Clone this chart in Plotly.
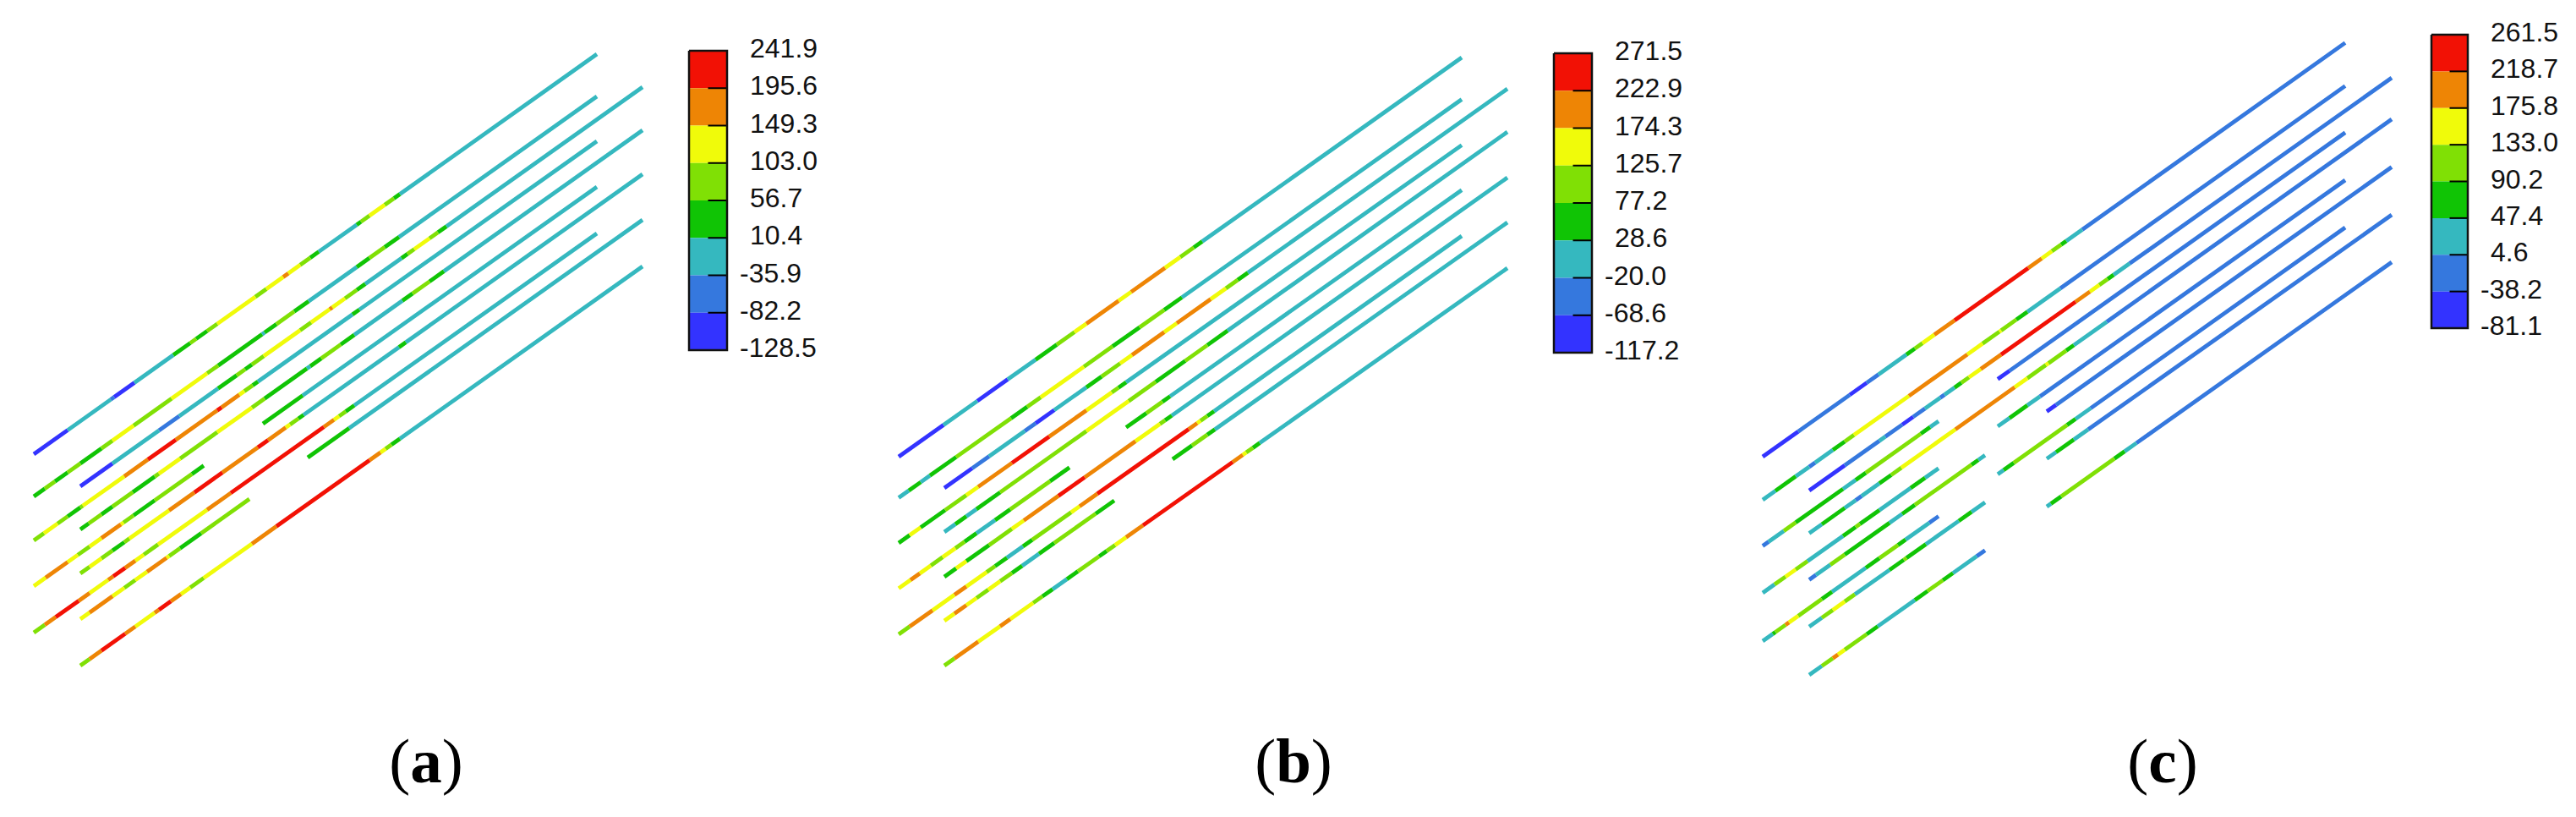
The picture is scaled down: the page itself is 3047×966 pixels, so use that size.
import plotly.graph_objects as go

# contour classes, bottom to top of each legend
BAND_COLORS = {"B": "#3333FF", "b": "#3578DE", "t": "#35B8BF", "g": "#10C405",
               "l": "#80E005", "y": "#F0FB0A", "o": "#EE8505", "r": "#F21105"}
LEGEND_ORDER = ["r", "o", "y", "l", "g", "t", "b", "B"]

levels_a = ["241.9", "195.6", "149.3", "103.0", "56.7", "10.4", "-35.9", "-82.2", "-128.5"]
levels_b = ["271.5", "222.9", "174.3", "125.7", "77.2", "28.6", "-20.0", "-68.6", "-117.2"]
levels_c = ["261.5", "218.7", "175.8", "133.0", "90.2", "47.4", "4.6", "-38.2", "-81.1"]

# line ends: x start, x end, y start, y end
a_A = (40, 706); a_B = (95, 760)
b_A = (1063, 1729); b_B = (1117, 1783)
c_A = (2085, 2774); c_B = (2140, 2829)
a_ys = [(537, 64), (587, 114), (639, 167), (693, 221), (748, 276),
        (575, 103), (626, 154), (678, 206), (732, 260), (787, 315)]
b_ys = [(540, 68), (588.5, 117.5), (642, 171.6), (695.6, 224.7), (750, 279),
        (577, 105), (629, 156), (682, 210), (734, 263), (787, 317)]
c_ys = [(540, 50.6), (591, 101.6), (645.5, 156.7), (701, 213), (758, 269),
        (580, 92), (630.5, 141), (685.5, 197.5), (741, 254), (798, 310)]

# band runs along each line: (end station, class); "_" is a break in the line
a1 = [(80,"B"),(131,"t"),(135,"b"),(159,"B"),(205,"t"),(225,"g"),(232,"l"),(245,"g"),(257,"l"),(302,"y"),(315,"l"),(335,"y"),(341,"o"),(355,"y"),(367,"l"),(377,"g"),(422,"t"),(427,"g"),(437,"l"),(455,"y"),(466,"l"),(473,"g"),(706,"t")]
a2 = [(53,"g"),(65,"l"),(80,"g"),(95,"l"),(120,"g"),(133,"l"),(158,"y"),(203,"l"),(245,"y"),(258,"l"),(310,"g"),(313,"t"),(327,"g"),(348,"l"),(365,"g"),(422,"t"),(437,"g"),(455,"l"),(472,"g"),(706,"t")]
a3 = [(52,"l"),(68,"y"),(80,"l"),(95,"g"),(98,"l"),(147,"y"),(175,"o"),(208,"r"),(257,"o"),(262,"r"),(283,"o"),(289,"y"),(299,"l"),(305,"g"),(417,"t"),(425,"g"),(706,"t")]
a4 = [(54,"y"),(80,"o"),(92,"y"),(106,"l"),(120,"y"),(143,"o"),(146,"y"),(158,"l"),(183,"g"),(227,"l"),(241,"g"),(311,"_"),(358,"g"),(706,"t")]
a5 = [(53,"l"),(66,"o"),(93,"r"),(106,"o"),(128,"y"),(134,"o"),(148,"r"),(160,"o"),(170,"y"),(187,"l"),(245,"y"),(273,"o"),(383,"r"),(395,"o"),(401,"y"),(409,"l"),(419,"g"),(706,"t")]
a6 = [(133,"B"),(188,"t"),(212,"b"),(258,"t"),(280,"g"),(290,"l"),(298,"g"),(312,"l"),(355,"y"),(368,"l"),(390,"y"),(393,"o"),(408,"y"),(422,"l"),(432,"g"),(475,"t"),(482,"g"),(490,"l"),(508,"y"),(518,"l"),(528,"g"),(760,"t")]
a7 = [(105,"g"),(120,"l"),(133,"g"),(157,"l"),(183,"g"),(188,"l"),(213,"y"),(257,"l"),(298,"y"),(313,"l"),(363,"g"),(367,"t"),(380,"g"),(403,"l"),(419,"g"),(476,"t"),(488,"g"),(508,"l"),(525,"g"),(760,"t")]
a8 = [(106,"l"),(120,"y"),(133,"l"),(147,"g"),(153,"l"),(200,"y"),(230,"o"),(263,"r"),(305,"o"),(317,"r"),(338,"o"),(343,"y"),(353,"l"),(359,"g"),(472,"t"),(480,"g"),(760,"t")]
a9 = [(106,"y"),(133,"o"),(147,"y"),(160,"l"),(174,"y"),(197,"o"),(200,"y"),(213,"l"),(238,"g"),(295,"l"),(364,"_"),(413,"g"),(760,"t")]
a10 = [(106,"l"),(120,"o"),(148,"r"),(160,"o"),(183,"y"),(188,"o"),(202,"r"),(214,"o"),(225,"y"),(241,"l"),(298,"y"),(327,"o"),(437,"r"),(450,"o"),(456,"y"),(463,"l"),(473,"g"),(760,"t")]

b1 = [(1116,"B"),(1156,"t"),(1192,"B"),(1225,"t"),(1250,"g"),(1271,"l"),(1285,"y"),(1323,"o"),(1338,"y"),(1378,"o"),(1396,"y"),(1412,"l"),(1422,"g"),(1729,"t")]
b2 = [(1075,"t"),(1089,"g"),(1100,"t"),(1131,"g"),(1196,"l"),(1215,"g"),(1231,"l"),(1282,"y"),(1316,"l"),(1348,"g"),(1377,"l"),(1398,"g"),(1729,"t")]
b3 = [(1076,"g"),(1089,"y"),(1118,"g"),(1143,"l"),(1157,"y"),(1197,"o"),(1241,"r"),(1285,"o"),(1315,"y"),(1323,"l"),(1332,"g"),(1729,"t")]
b4 = [(1077,"y"),(1088,"o"),(1101,"y"),(1115,"l"),(1130,"y"),(1141,"l"),(1155,"g"),(1177,"t"),(1195,"g"),(1242,"l"),(1265,"g"),(1332,"_"),(1356,"g"),(1375,"l"),(1384,"g"),(1729,"t")]
b5 = [(1076,"l"),(1103,"o"),(1129,"y"),(1143,"o"),(1167,"y"),(1177,"l"),(1191,"g"),(1210,"t"),(1221,"g"),(1267,"l"),(1277,"y"),(1298,"o"),(1406,"r"),(1416,"o"),(1420,"y"),(1428,"l"),(1436,"g"),(1729,"t")]
b6 = [(1150,"B"),(1170,"b"),(1212,"t"),(1225,"b"),(1247,"B"),(1285,"t"),(1303,"g"),(1325,"l"),(1339,"y"),(1377,"o"),(1392,"y"),(1432,"o"),(1450,"y"),(1464,"l"),(1476,"g"),(1783,"t")]
b7 = [(1130,"t"),(1143,"g"),(1155,"t"),(1183,"g"),(1285,"l"),(1335,"y"),(1367,"l"),(1402,"g"),(1428,"l"),(1452,"g"),(1783,"t")]
b8 = [(1131,"g"),(1143,"y"),(1170,"g"),(1197,"l"),(1211,"y"),(1252,"o"),(1283,"r"),(1343,"o"),(1372,"y"),(1378,"l"),(1386,"g"),(1783,"t")]
b9 = [(1129,"y"),(1143,"o"),(1155,"y"),(1169,"l"),(1183,"y"),(1197,"l"),(1209,"g"),(1229,"t"),(1247,"g"),(1296,"l"),(1318,"g"),(1387,"_"),(1410,"g"),(1428,"l"),(1437,"g"),(1783,"t")]
b10 = [(1129,"l"),(1157,"o"),(1183,"y"),(1195,"o"),(1222,"y"),(1233,"l"),(1245,"g"),(1262,"t"),(1275,"g"),(1300,"l"),(1309,"g"),(1319,"l"),(1332,"y"),(1352,"o"),(1458,"r"),(1470,"o"),(1474,"y"),(1482,"l"),(1490,"g"),(1783,"t")]

c1 = [(2127,"B"),(2188,"b"),(2208,"B"),(2222,"b"),(2255,"t"),(2265,"g"),(2274,"l"),(2288,"y"),(2312,"o"),(2399,"r"),(2415,"o"),(2427,"y"),(2438,"l"),(2444,"g"),(2463,"t"),(2774,"b")]
c2 = [(2100,"t"),(2124,"g"),(2140,"t"),(2147,"b"),(2168,"t"),(2182,"g"),(2193,"l"),(2258,"y"),(2327,"o"),(2345,"y"),(2365,"l"),(2367,"y"),(2385,"l"),(2398,"g"),(2437,"t"),(2774,"b")]
c3 = [(2092,"b"),(2110,"t"),(2124,"l"),(2180,"g"),(2195,"t"),(2207,"g"),(2272,"l"),(2283,"g"),(2293,"t"),(2363,"_"),(2377,"B"),(2774,"b")]
c4 = [(2099,"t"),(2112,"l"),(2124,"y"),(2138,"l"),(2180,"t"),(2195,"g"),(2200,"l"),(2223,"g"),(2260,"t"),(2277,"g"),(2293,"t"),(2363,"_"),(2377,"t"),(2398,"g"),(2413,"t"),(2774,"b")]
c5 = [(2097,"t"),(2100,"g"),(2112,"l"),(2116,"o"),(2127,"y"),(2155,"l"),(2167,"g"),(2207,"t"),(2223,"g"),(2245,"l"),(2254,"g"),(2282,"t"),(2293,"b"),(2363,"_"),(2370,"t"),(2382,"g"),(2445,"l"),(2455,"g"),(2473,"t"),(2774,"b")]
c6 = [(2182,"B"),(2223,"b"),(2230,"t"),(2250,"b"),(2263,"B"),(2277,"b"),(2295,"t"),(2300,"b"),(2312,"t"),(2320,"g"),(2329,"l"),(2343,"y"),(2367,"o"),(2455,"r"),(2472,"o"),(2483,"y"),(2493,"l"),(2500,"g"),(2519,"t"),(2829,"b")]
c7 = [(2155,"t"),(2182,"g"),(2195,"t"),(2202,"b"),(2223,"t"),(2237,"g"),(2249,"l"),(2313,"y"),(2383,"o"),(2398,"y"),(2420,"l"),(2423,"y"),(2444,"l"),(2453,"g"),(2492,"t"),(2829,"b")]
c8 = [(2148,"b"),(2165,"t"),(2182,"l"),(2235,"g"),(2250,"t"),(2265,"g"),(2332,"l"),(2340,"g"),(2348,"t"),(2421,"_"),(2432,"B"),(2829,"b")]
c9 = [(2155,"t"),(2168,"l"),(2182,"y"),(2194,"l"),(2235,"t"),(2252,"g"),(2255,"l"),(2278,"g"),(2317,"t"),(2332,"g"),(2348,"t"),(2421,"_"),(2432,"t"),(2453,"g"),(2470,"t"),(2829,"b")]
c10 = [(2155,"t"),(2168,"l"),(2174,"o"),(2182,"y"),(2208,"l"),(2221,"g"),(2265,"t"),(2280,"g"),(2298,"l"),(2310,"g"),(2338,"t"),(2348,"b"),(2421,"_"),(2426,"t"),(2438,"g"),(2501,"l"),(2513,"g"),(2527,"t"),(2829,"b")]

panels = [
    {"tag": "a", "runs": [a1, a2, a3, a4, a5, a6, a7, a8, a9, a10], "ys": a_ys, "A": a_A, "B": a_B,
     "levels": levels_a, "bar": (815, 860, 60, 414), "cap_x": 504},
    {"tag": "b", "runs": [b1, b2, b3, b4, b5, b6, b7, b8, b9, b10], "ys": b_ys, "A": b_A, "B": b_B,
     "levels": levels_b, "bar": (1838, 1883, 63, 417), "cap_x": 1530},
    {"tag": "c", "runs": [c1, c2, c3, c4, c5, c6, c7, c8, c9, c10], "ys": c_ys, "A": c_A, "B": c_B,
     "levels": levels_c, "bar": (2876, 2919, 41, 388), "cap_x": 2558},
]

LABEL_FONT = dict(family="Liberation Sans", size=32, color="#111111")
fig = go.Figure()

for p in panels:
    seg_x = {k: [] for k in BAND_COLORS}
    seg_y = {k: [] for k in BAND_COLORS}
    for i, run in enumerate(p["runs"]):
        xs, xe = p["A"] if i < 5 else p["B"]
        ys, ye = p["ys"][i]
        at = lambda x: ys + (ye - ys) * (x - xs) / (xe - xs)
        start = xs
        for stop, band in run:
            if band != "_":
                seg_x[band] += [start, stop, None]
                seg_y[band] += [at(start), at(stop), None]
            start = stop
    for band, color in BAND_COLORS.items():
        fig.add_trace(go.Scatter(x=seg_x[band], y=seg_y[band], mode="lines",
                                 line=dict(color=color, width=4.8), hoverinfo="skip"))

    # legend blocks
    x0, x1, y0, y1 = p["bar"]
    step = (y1 - y0) / 8
    fig.add_trace(go.Bar(x=[(x0 + x1) / 2] * 8, width=[x1 - x0] * 8,
                         base=[y0 + i * step for i in range(8)], y=[step] * 8,
                         marker=dict(color=[BAND_COLORS[k] for k in LEGEND_ORDER], line=dict(width=0)),
                         hoverinfo="skip"))
    tx, ty = [], []
    for i in range(1, 8):
        tx += [(x0 + x1) / 2, x1, None]
        ty += [y0 + i * step, y0 + i * step, None]
    fig.add_trace(go.Scatter(x=tx, y=ty, mode="lines", line=dict(color="black", width=2), hoverinfo="skip"))
    fig.add_trace(go.Scatter(x=[x0, x1, x1, x0, x0], y=[y0, y0, y1, y1, y0], mode="lines",
                             line=dict(color="#111111", width=2.5), hoverinfo="skip"))
    fig.add_trace(go.Scatter(
        x=[x1 + (15 if s.startswith("-") else 27) for s in p["levels"]],
        y=[y0 + i * step for i in range(9)],
        mode="text", text=p["levels"], textposition="middle right",
        textfont=LABEL_FONT, hoverinfo="skip"))
    fig.add_trace(go.Scatter(
        x=[p["cap_x"]], y=[906], mode="text", text=[f"(<b>{p['tag']}</b>)"],
        textposition="middle center",
        textfont=dict(family="Liberation Serif", size=75, color="black"), hoverinfo="skip"))

fig.update_layout(
    width=3047, height=966, margin=dict(l=0, r=0, t=0, b=0),
    paper_bgcolor="white", plot_bgcolor="white", showlegend=False, barmode="overlay",
    xaxis=dict(range=[0, 3047], visible=False, fixedrange=True),
    yaxis=dict(range=[966, 0], visible=False, fixedrange=True),
)
fig.write_html("out.html", config={"displayModeBar": False},
               post_script="document.body.style.margin='0';")
